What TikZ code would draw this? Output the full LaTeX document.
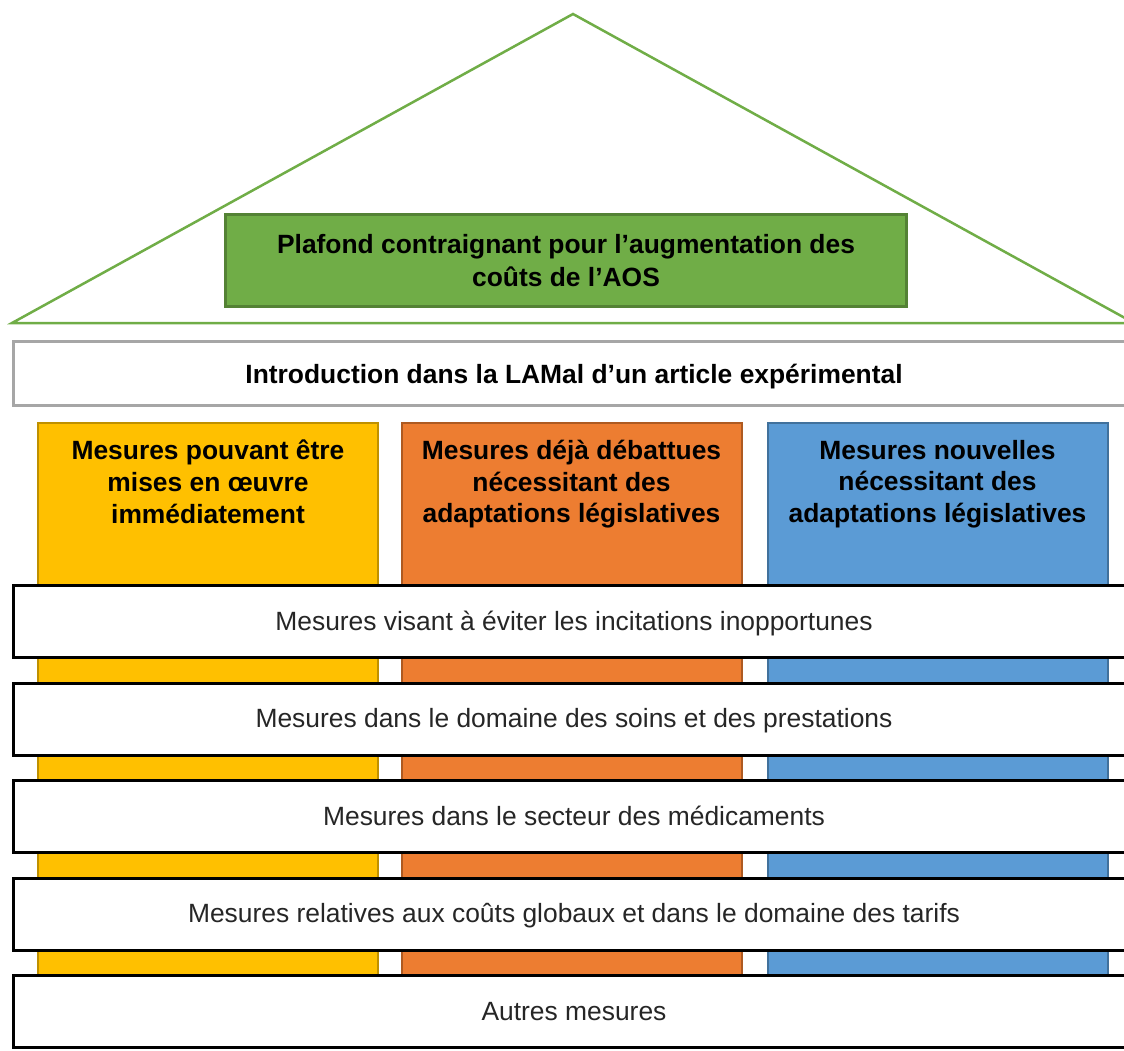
\documentclass[tikz,border=0pt]{standalone}
\usepackage{fontspec}
\setmainfont{Liberation Sans}
\usetikzlibrary{positioning}
\definecolor{roofgreen}{HTML}{70AD47}
\definecolor{roofdark}{HTML}{548235}
\definecolor{introgray}{HTML}{A6A6A6}
\definecolor{pyellow}{HTML}{FFC000}
\definecolor{pyellowdk}{HTML}{BF9000}
\definecolor{porange}{HTML}{ED7D31}
\definecolor{porangedk}{HTML}{AE5A21}
\definecolor{pblue}{HTML}{5B9BD5}
\definecolor{pbluedk}{HTML}{41719C}
\begin{document}
\begin{tikzpicture}[x=1pt, y=-1pt,
  every node/.style={font=\fontsize{26.4}{32.5}\selectfont, inner sep=0pt, outer sep=0pt},
  pillar/.style={rectangle, draw, line width=2pt, minimum width=340pt, minimum height=620pt},
  pillartext/.style={align=center, font=\fontsize{26.4}{31.8}\selectfont\bfseries, anchor=north},
  band/.style={rectangle, draw=black, line width=3pt, fill=white, minimum width=1122pt, minimum height=72pt, text=black!85, text height=19pt, text depth=2pt},
]
\useasboundingbox (0,0) rectangle (1124,1051);

% Roof
\coordinate (roofl) at (12,323);
\coordinate (apex) at (573,14);
\coordinate (roofr) at (1134,323);
\draw[roofgreen, line width=2.5pt] (roofl) -- (apex) -- (roofr) -- cycle;
\node[rectangle, fill=roofgreen, draw=roofdark, line width=3pt, minimum width=681pt, minimum height=92pt, align=center, font=\fontsize{26.4}{32.5}\selectfont\bfseries] (cap) at (566,260.5) {Plafond contraignant pour l’augmentation des\\coûts de l’AOS};

% Intro
\node[rectangle, draw=introgray, line width=3pt, minimum width=1121pt, minimum height=64pt, text height=21pt, text depth=1pt, font=\fontsize{26.4}{32.5}\selectfont\bfseries] (intro) at (574,373.5) {Introduction dans la LAMal d’un article expérimental};

% Pillars
\node[pillar, fill=pyellow, draw=pyellowdk] (yel) at (208,733) {};
\node[pillar, fill=porange, draw=porangedk] (ora) at (571.5,733) {};
\node[pillar, fill=pblue, draw=pbluedk] (blu) at (937.5,733) {};
\node[pillartext] (yeltxt) at ([yshift=-17pt]yel.north) {Mesures pouvant être\\mises en œuvre\\immédiatement};
\node[pillartext] (oratxt) at ([yshift=-17pt]ora.north) {Mesures déjà débattues\\nécessitant des\\adaptations législatives};
\node[pillartext] (blutxt) at ([yshift=-17pt]blu.north) {Mesures nouvelles\\nécessitant des\\adaptations législatives};

% Bands
\node[band] (b1) at (574,621.5) {Mesures visant à éviter les incitations inopportunes};
\node[band, below=25.5pt of b1] (b2) {Mesures dans le domaine des soins et des prestations};
\node[band, below=25.5pt of b2] (b3) {Mesures dans le secteur des médicaments};
\node[band, below=25.5pt of b3] (b4) {Mesures relatives aux coûts globaux et dans le domaine des tarifs};
\node[band, below=25.5pt of b4] (b5) {Autres mesures};
\end{tikzpicture}
\end{document}
